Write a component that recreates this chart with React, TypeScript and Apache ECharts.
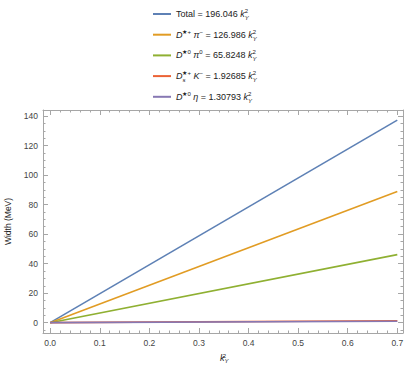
import React, { useEffect, useRef } from "react";
import * as echarts from "echarts";

// ---- data ----
const xValues = [0, 0.7];
const seriesNames = ["Total", "DstarPlusPi", "Dstar0Pi0", "DsK", "Dstar0Eta"];
const totalValues = [0, 137.2];
const dstarPlusPiValues = [0, 88.9];
const dstar0Pi0Values = [0, 46.1];
const dsKValues = [0, 1.35];
const dstar0EtaValues = [0, 0.92];
const coefficients = ["196.046", "126.986", "65.8248", "1.92685", "1.30793"];
const colors = ["#5E81B5", "#E19C24", "#8FB032", "#EB6235", "#8778B3"];

const xMajor = [0, 0.1, 0.2, 0.3, 0.4, 0.5, 0.6, 0.7];
const xMinor = [0.02, 0.04, 0.06, 0.08, 0.12, 0.14, 0.16, 0.18, 0.22, 0.24, 0.26, 0.28, 0.32, 0.34, 0.36, 0.38, 0.42, 0.44, 0.46, 0.48, 0.52, 0.54, 0.56, 0.58, 0.62, 0.64, 0.66, 0.68];
const yMajor = [0, 20, 40, 60, 80, 100, 120, 140];
const yMinor = [-5, 5, 10, 15, 25, 30, 35, 45, 50, 55, 65, 70, 75, 85, 90, 95, 105, 110, 115, 125, 130, 135];

const X_MIN = -0.0145;
const X_MAX = 0.7115;
const Y_MIN = -7.0;
const Y_MAX = 144.1;

const FRAME = "#a6a6a6";
const LABEL = "#444";
const FONT = "Liberation Sans, Arial, sans-serif";

const legendPrefix: Record<string, string> = {
  Total: "{t|Total}",
  DstarPlusPi: "{it|D}{sup|★+} {it|π}{sup|−}",
  Dstar0Pi0: "{it|D}{sup|★0} {it|π}{sup|0}",
  DsK: "{it|D}{subz|s}{sup|★+} {it|K}{sup|−}",
  Dstar0Eta: "{it|D}{sup|★0} {it|η}",
};

const kTerm = "{it| k}{supz|2}{sub|Y}";

function makeRich(lh: number) {
  return {
    t: { fontSize: 9, fontFamily: FONT, color: "#222", lineHeight: lh, verticalAlign: "middle" },
    it: { fontSize: 9, fontFamily: FONT, fontStyle: "italic", color: "#222", lineHeight: lh, verticalAlign: "middle" },
    sup: { fontSize: 6, fontFamily: FONT, color: "#222", lineHeight: lh, verticalAlign: "top", padding: [1, 0, 0, 0] },
    supz: { fontSize: 6, fontFamily: FONT, color: "#222", lineHeight: lh, verticalAlign: "top", width: 0, padding: [1, 0, 0, 0] },
    sub: { fontSize: 6, fontFamily: FONT, fontStyle: "italic", color: "#222", lineHeight: lh, verticalAlign: "bottom" },
    subz: { fontSize: 6, fontFamily: FONT, fontStyle: "italic", color: "#222", lineHeight: lh, verticalAlign: "bottom", width: 0 },
  };
}

function App() {
  const ref = useRef<HTMLDivElement>(null);
  useEffect(() => {
    if (!ref.current) return;
    const chart = echarts.init(ref.current, null, { renderer: "svg" });
    const rich = makeRich(14);
    const richName = makeRich(12);
    const idx = (n: string) => seriesNames.indexOf(n);
    const mk = (name: string, vals: number[], i: number) => ({
      name,
      type: "line",
      data: xValues.map((x, j) => [x, vals[j]]),
      showSymbol: false,
      symbol: "none",
      lineStyle: { width: 1.6, color: colors[i] },
      itemStyle: { color: colors[i] },
      xAxisIndex: 0,
      yAxisIndex: 0,
    });
    const xBase = {
      type: "value",
      min: X_MIN,
      max: X_MAX,
      splitLine: { show: false },
      axisLine: { show: false, onZero: false },
      axisLabel: { show: false },
    };
    const yBase = {
      type: "value",
      min: Y_MIN,
      max: Y_MAX,
      splitLine: { show: false },
      axisLine: { show: false, onZero: false },
      axisLabel: { show: false },
    };
    chart.setOption({
      animation: false,
      backgroundColor: "#fff",
      grid: { left: 43, top: 110, width: 360, height: 223, containLabel: false, outerBoundsMode: "none" },
      legend: {
        orient: "vertical",
        left: 148,
        top: 2,
        itemWidth: 18,
        itemHeight: 2,
        itemGap: 6.7,
        icon: "rect",
        data: seriesNames,
        formatter: (name: string) => {
          const i = idx(name);
          return legendPrefix[name] + "{t| = " + coefficients[i] + "}" + kTerm;
        },
        textStyle: { fontSize: 9, fontFamily: FONT, color: "#222", lineHeight: 14, rich },
      },
      xAxis: [
        {
          ...xBase,
          position: "bottom",
          axisLine: { show: true, onZero: false, lineStyle: { color: FRAME, width: 1 } },
          axisTick: { show: true, inside: true, length: 5, customValues: xMajor, lineStyle: { color: FRAME } },
          axisLabel: {
            show: true,
            customValues: xMajor,
            formatter: (v: number) => v.toFixed(1),
            fontSize: 8.5,
            fontFamily: FONT,
            color: LABEL,
            margin: 5,
          },
          name: kTerm,
          nameLocation: "middle",
          nameGap: 15,
          nameTextStyle: { rich: richName, fontSize: 9, fontFamily: FONT, color: "#222", lineHeight: 12 },
        },
        {
          ...xBase,
          position: "bottom",
          axisTick: { show: true, inside: true, length: 2.5, customValues: xMinor, lineStyle: { color: FRAME } },
        },
        {
          ...xBase,
          position: "top",
          axisLine: { show: true, onZero: false, lineStyle: { color: FRAME, width: 1 } },
          axisTick: { show: true, inside: true, length: 5, customValues: xMajor, lineStyle: { color: FRAME } },
        },
        {
          ...xBase,
          position: "top",
          axisTick: { show: true, inside: true, length: 2.5, customValues: xMinor, lineStyle: { color: FRAME } },
        },
      ],
      yAxis: [
        {
          ...yBase,
          position: "left",
          axisLine: { show: true, onZero: false, lineStyle: { color: FRAME, width: 1 } },
          axisTick: { show: true, inside: true, length: 5, customValues: yMajor, lineStyle: { color: FRAME } },
          axisLabel: {
            show: true,
            customValues: yMajor,
            formatter: (v: number) => String(Math.round(v)),
            fontSize: 8.5,
            fontFamily: FONT,
            color: LABEL,
            margin: 5,
          },
          name: "Width (MeV)",
          nameLocation: "middle",
          nameGap: 30,
          nameTextStyle: { fontSize: 8.5, fontFamily: FONT, color: "#222" },
        },
        {
          ...yBase,
          position: "left",
          axisTick: { show: true, inside: true, length: 2.5, customValues: yMinor, lineStyle: { color: FRAME } },
        },
        {
          ...yBase,
          position: "right",
          axisLine: { show: true, onZero: false, lineStyle: { color: FRAME, width: 1 } },
          axisTick: { show: true, inside: true, length: 5, customValues: yMajor, lineStyle: { color: FRAME } },
        },
        {
          ...yBase,
          position: "right",
          axisTick: { show: true, inside: true, length: 2.5, customValues: yMinor, lineStyle: { color: FRAME } },
        },
      ],
      series: [
        mk("Total", totalValues, 0),
        mk("DstarPlusPi", dstarPlusPiValues, 1),
        mk("Dstar0Pi0", dstar0Pi0Values, 2),
        mk("DsK", dsKValues, 3),
        mk("Dstar0Eta", dstar0EtaValues, 4),
      ],
    });
    return () => chart.dispose();
  }, []);
  return (
    <div
      ref={ref}
      style={{ position: "absolute", left: 0, top: 0, width: 415, height: 366 }}
    />
  );
}

export default App;
